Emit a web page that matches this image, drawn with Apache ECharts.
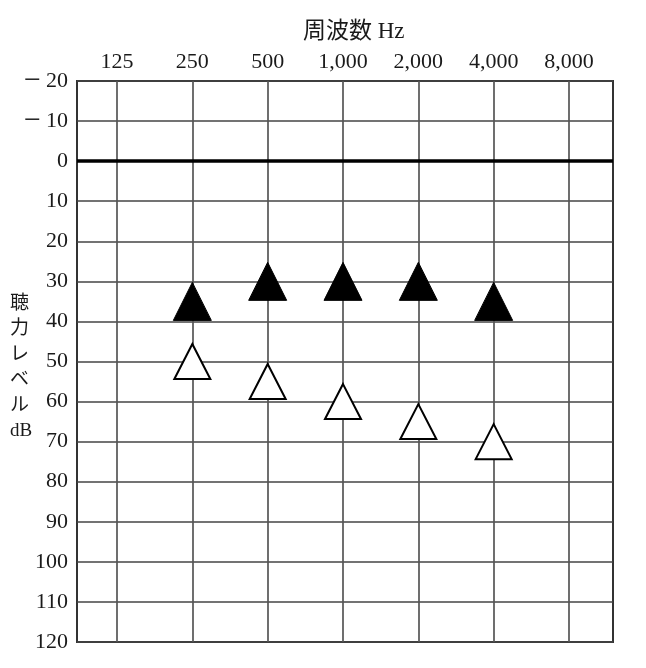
<!DOCTYPE html>
<html lang="ja">
<head>
    <meta charset="UTF-8">
    <title>聴力レベル</title>
    <script src="https://cdn.jsdelivr.net/npm/echarts@6/dist/echarts.min.js"></script>
    <style>
        html, body {margin: 0; padding: 0; background: #fff;}
    </style>
</head>
<body>
    <div id="chart" style="width: 646px; height: 668px"></div>
    <script type="text/javascript">
        // 周波数 (Hz) と各周波数の聴力レベル (dB)
        let freqs = ['125', '250', '500', '1,000', '2,000', '4,000', '8,000'];
        let filledFreqIdx = [1, 2, 3, 4, 5];
        let filledLevels = [35, 30, 30, 30, 35];
        let openFreqIdx = [1, 2, 3, 4, 5];
        let openLevels = [50, 55, 60, 65, 70];
        let dbMin = -20, dbMax = 120, dbStep = 10;

        let serif = '"Liberation Serif", "Noto Sans CJK JP", serif';
        let myChart = echarts.init(document.getElementById('chart'), null, {renderer: 'canvas'});

        let toPairs = (idx, vals) => idx.map((v, i) => [v, vals[i]]);

        let option = {
            backgroundColor: '#fff',
            animation: false,
            title: {
                text: '周波数 Hz',
                left: 298,
                top: 15,
                textStyle: {fontFamily: serif, fontSize: 23, fontWeight: 'normal', color: '#1a1a1a'}
            },
            graphic: [{
                type: 'text',
                left: 10,
                top: 291,
                style: {
                    text: '聴\n力\nレ\nベ\nル\ndB',
                    font: '19px ' + serif,
                    fill: '#1a1a1a',
                    lineHeight: 25.5,
                    align: 'center'
                }
            }],
            grid: [
                // 外枠・横線
                {left: 77, right: 33, top: 81, bottom: 26, show: true, borderColor: '#333', borderWidth: 2},
                // 周波数の縦線
                {left: 117, right: 77, top: 81, bottom: 26}
            ],
            xAxis: [
                {gridIndex: 0, type: 'value', min: 0, max: 1, show: false},
                {
                    gridIndex: 1, type: 'value', position: 'top', min: 0, max: freqs.length - 1, interval: 1,
                    axisLine: {show: false}, axisTick: {show: false},
                    axisLabel: {
                        margin: 8,
                        formatter: v => freqs[v] || '',
                        fontFamily: serif, fontSize: 22, color: '#1a1a1a'
                    },
                    splitLine: {show: true, lineStyle: {color: '#555', width: 1.7}}
                }
            ],
            yAxis: [
                {
                    gridIndex: 0, type: 'value', inverse: true, min: dbMin, max: dbMax, interval: dbStep,
                    axisLine: {show: false}, axisTick: {show: false},
                    axisLabel: {
                        margin: 9,
                        formatter: v => v < 0 ? '{m|\u2212}{n|' + Math.abs(v) + '}' : '{n|' + v + '}',
                        rich: {
                            m: {fontFamily: serif, fontSize: 30, color: '#1a1a1a', padding: [0, 5, 0, 0]},
                            n: {fontFamily: serif, fontSize: 22, color: '#1a1a1a'}
                        },
                        fontFamily: serif, fontSize: 22, color: '#1a1a1a'
                    },
                    splitLine: {show: true, lineStyle: {color: '#444', width: 1.7}}
                },
                {gridIndex: 1, type: 'value', inverse: true, min: dbMin, max: dbMax, show: false}
            ],
            series: [
                {
                    // 0 dB の太線
                    type: 'line',
                    xAxisIndex: 0, yAxisIndex: 0,
                    data: [],
                    markLine: {
                        silent: true,
                        symbol: 'none',
                        label: {show: false},
                        lineStyle: {color: '#000', width: 3.5, type: 'solid'},
                        data: [{yAxis: 0}]
                    }
                },
                {
                    name: 'filled',
                    type: 'scatter',
                    xAxisIndex: 1, yAxisIndex: 1,
                    symbol: 'triangle',
                    symbolSize: [38, 38],
                    itemStyle: {color: '#000', borderColor: '#000', borderWidth: 1, opacity: 1},
                    data: toPairs(filledFreqIdx, filledLevels)
                },
                {
                    name: 'open',
                    type: 'scatter',
                    xAxisIndex: 1, yAxisIndex: 1,
                    symbol: 'triangle',
                    symbolSize: [36, 35],
                    itemStyle: {color: '#fff', borderColor: '#000', borderWidth: 2, opacity: 1},
                    data: toPairs(openFreqIdx, openLevels)
                }
            ]
        };
        myChart.setOption(option);
    </script>
</body>
</html>
